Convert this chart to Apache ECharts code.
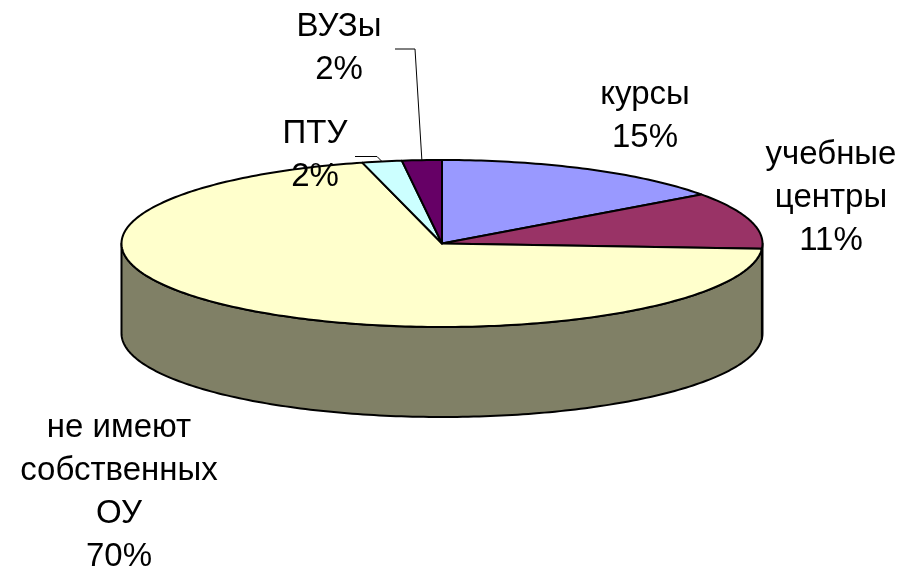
<!DOCTYPE html>
<html>
<head>
<meta charset="utf-8">
<script src="https://cdn.jsdelivr.net/npm/echarts@6/dist/echarts.min.js"></script>
<style>
  html, body { margin: 0; padding: 0; background: #fff }
  #main { width: 905px; height: 572px }
</style>
</head>
<body>
<div id="main"></div>
<script>
const names = ['курсы', 'учебные\nцентры', 'не имеют\nсобственных\nОУ', 'ПТУ', 'ВУЗы']
const values = [15, 11, 70, 2, 2]

const topColors = ['#9999FF', '#993366', '#FFFFCC', '#CCFFFF', '#660066']
const sideColors = ['#4D4D80', '#4D1A33', '#808066', '#668080', '#330033']

// layout of the tilted pie (excel style 3d)
const CX = 442, CY = 243.5, RX = 320.5, RY = 83.5, DEPTH = 90
const labelPos = [[645, 116], [831, 198], [119, 492], [315, 155.5], [339, 48]]
const leaders = [null, null, null, [[355, 156.5], [377, 156.5]], [[395, 49], [415, 49]]]

const total = values.reduce((a, b) => a + b, 0)
const starts = []
let acc = 0
values.forEach(v => { starts.push(acc); acc += v })

// angle in degrees, clockwise from 12 o'clock
const pt = (deg, dy) => {
  const r = deg * Math.PI / 180
  return [CX + RX * Math.sin(r), CY - RY * Math.cos(r) + (dy || 0)]
}
const arc = (a, b, dy) => {
  const pts = []
  const n = Math.max(2, Math.ceil(Math.abs(b - a)))
  for (let i = 0; i <= n; i++) pts.push(pt(a + (b - a) * i / n, dy))
  return pts
}

const renderItem = (params, api) => {
  const i = params.dataIndex
  const v = api.value(0)
  const a = starts[i] / total * 360
  const b = a + v / total * 360
  const children = []

  // front wall, only the part facing the viewer
  const fa = Math.max(a, 90), fb = Math.min(b, 270)
  if (fb > fa) {
    children.push({
      type: 'polygon', z2: 1,
      shape: { points: arc(fa, fb, 0).concat(arc(fb, fa, DEPTH)) },
      style: { fill: sideColors[i], stroke: '#000', lineWidth: 2, lineJoin: 'round' }
    })
  }

  // top face
  children.push({
    type: 'polygon', z2: 5,
    shape: { points: [[CX, CY]].concat(arc(a, b, 0)) },
    style: { fill: topColors[i], stroke: '#000', lineWidth: 2, lineJoin: 'round' }
  })

  if (leaders[i]) {
    children.push({
      type: 'polyline', z2: 8,
      shape: { points: leaders[i].concat([pt((a + b) / 2, 0)]) },
      style: { fill: null, stroke: '#000', lineWidth: 1 }
    })
  }

  children.push({
    type: 'text', z2: 10,
    x: labelPos[i][0], y: labelPos[i][1],
    style: {
      text: names[i] + '\n' + Math.round(v / total * 100) + '%',
      fill: '#000',
      font: '33px "Liberation Sans", Arial, sans-serif',
      align: 'center',
      verticalAlign: 'middle',
      lineHeight: 43
    }
  })

  return { type: 'group', children: children }
}

const chart = echarts.init(document.getElementById('main'))
chart.setOption({
  backgroundColor: '#fff',
  animation: false,
  series: [
    {
      type: 'custom',
      coordinateSystem: 'none',
      silent: true,
      renderItem: renderItem,
      data: values.map((v, i) => ({ name: names[i], value: [v] }))
    }
  ]
})
</script>
</body>
</html>
